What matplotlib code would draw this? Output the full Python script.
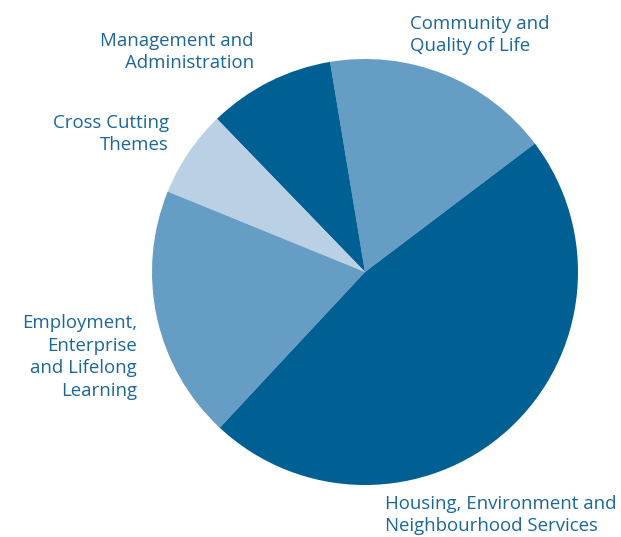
import matplotlib
matplotlib.use('Agg')
import matplotlib.pyplot as plt

labels = ['Community and\nQuality of Life', 'Management and\nAdministration', 'Cross Cutting\nThemes',
          'Employment,\nEnterprise\nand Lifelong\nLearning', 'Housing, Environment and\nNeighbourhood Services']
shares = [17.3, 9.6, 6.6, 19.2, 47.2]
colors = ['#659dc5', '#006094', '#bad0e5', '#659dc5', '#006094']

plt.rcParams['font.family'] = ['Open Sans', 'DejaVu Sans']

W, H = 621, 537
cx, cy, R = 365, 272, 213

fig = plt.figure(figsize=(W / 100, H / 100), dpi=100)
ax = fig.add_axes([0, 0, 1, 1])
ax.pie(shares, colors=colors, startangle=37.1, counterclock=True, radius=1.0,
       wedgeprops=dict(linewidth=0))
ax.set_xlim(-cx / R, (W - cx) / R)
ax.set_ylim(-(H - cy) / R, cy / R)
ax.set_aspect('equal')
ax.axis('off')

def px(x, y):
    return (x - cx) / R, (cy - y) / R

# label centre (pixels) and alignment
spots = [((410, 35), 'left'), ((254, 52), 'right'), ((169, 134), 'right'),
         ((137, 357), 'right'), ((385, 515), 'left')]
tc = '#1a6799'
for lab, ((x, y), ha) in zip(labels, spots):
    tx, ty = px(x, y)
    ax.text(tx, ty, lab, ha=ha, va='center', color=tc, fontsize=13.4, linespacing=1.34,
            multialignment=ha)

plt.savefig('out.png', dpi=100)
